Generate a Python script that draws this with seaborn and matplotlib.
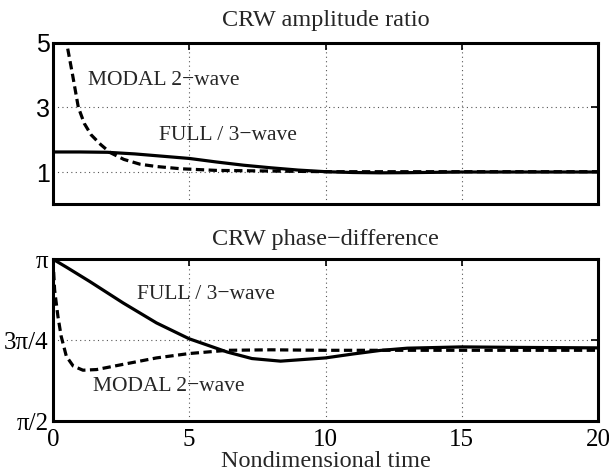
import numpy as np
import pandas as pd
import matplotlib
matplotlib.use("Agg")
import matplotlib.pyplot as plt
import seaborn as sns

# ---- data ----
amp_full_t = [0, 1, 2, 3, 4, 5, 6, 7, 8, 9, 10, 11, 12, 13, 14, 15, 17, 20]
amp_full_v = [1.62, 1.62, 1.61, 1.56, 1.49, 1.42, 1.31, 1.21, 1.13, 1.06, 1.01, 0.985, 0.975, 0.98, 0.99, 1.0, 1.0, 1.0]

amp_modal_t = [0.42, 0.5, 0.72, 0.93, 1.15, 1.4, 1.75, 2.1, 2.6, 3.2, 3.8, 4.7, 6, 8, 10, 12, 15, 20]
amp_modal_v = [5.6, 5.0, 4.0, 3.0, 2.5, 2.15, 1.85, 1.6, 1.39, 1.24, 1.17, 1.1, 1.05, 1.03, 1.01, 1.01, 1.01, 1.01]

# phase difference in units of pi
ph_full_t = [0, 0.5, 1.35, 2.57, 3.8, 5.0, 6.4, 7.3, 8.35, 10, 11, 12, 13, 15, 17, 20]
ph_full_v = [1.0, 0.975, 0.931, 0.865, 0.803, 0.754, 0.713, 0.693, 0.685, 0.695, 0.707, 0.718, 0.725, 0.729, 0.7275, 0.726]

ph_modal_t = [0, 0.06, 0.18, 0.3, 0.49, 0.74, 1.1, 1.6, 2.57, 3.8, 5.0, 6.4, 8, 10, 15, 20]
ph_modal_v = [1.0, 0.905, 0.824, 0.762, 0.70, 0.670, 0.657, 0.659, 0.675, 0.695, 0.7085, 0.7185, 0.72, 0.7185, 0.7185, 0.7185]

amp_ticks = [1, 3, 5]
amp_ticklabels = ["1", "3", "5"]
ph_ticks = [0.5, 0.75, 1.0]
ph_ticklabels = ["π/2", "3π/4", "π"]
x_ticks = [0, 5, 10, 15, 20]

sns.set_style("white")
plt.rcParams["font.family"] = ["Liberation Serif", "DejaVu Serif"]
plt.rcParams["axes.unicode_minus"] = True

fig = plt.figure(figsize=(6.09, 4.76), dpi=100)
ax1 = fig.add_axes([0.087, 0.5707, 0.895, 0.3396])
ax2 = fig.add_axes([0.087, 0.1155, 0.895, 0.3400])

def mk(t, v, name):
    return pd.DataFrame({"t": t, "v": v, "series": name})

amp = pd.concat([mk(amp_full_t, amp_full_v, "FULL"), mk(amp_modal_t, amp_modal_v, "MODAL")])
ph = pd.concat([mk(ph_full_t, ph_full_v, "FULL"), mk(ph_modal_t, ph_modal_v, "MODAL")])

LW = 2.3
for ax, df in [(ax1, amp), (ax2, ph)]:
    sns.lineplot(data=df[df.series == "FULL"], x="t", y="v", ax=ax, color="black",
                 lw=LW, legend=False)
    sns.lineplot(data=df[df.series == "MODAL"], x="t", y="v", ax=ax, color="black",
                 lw=LW, legend=False)
    ax.lines[1].set_dashes((2.6, 1.4))
    ax.set_xlim(0, 20)
    ax.set_xticks(x_ticks)
    ax.set_xlabel("")
    ax.set_ylabel("")
    ax.grid(True, which="major", color="#555555", linestyle=(0, (1, 3)), linewidth=0.8)
    ax.tick_params(direction="in", top=True, right=True, length=5, width=1.2, colors="black")
    for s in ax.spines.values():
        s.set_linewidth(2.2)
        s.set_color("black")
        s.set_visible(True)

ax1.set_ylim(0, 5)
ax1.set_yticks(amp_ticks)
ax1.set_yticklabels(amp_ticklabels, family=["Liberation Sans"], fontsize=18)
ax1.tick_params(axis="y", pad=2)
ax1.set_xticklabels([])
ax1.set_title("CRW amplitude ratio", fontsize=17.5, pad=12)
ax1.text(1.3, 3.82, "MODAL 2\u2212wave", fontsize=15.5, va="center", ha="left")
ax1.text(3.9, 2.12, "FULL / 3\u2212wave", fontsize=15.5, va="center", ha="left")

ax2.set_ylim(0.5, 1.0)
ax2.set_yticks(ph_ticks)
ax2.set_yticklabels(ph_ticklabels, fontsize=18)
ax2.set_xticklabels([str(x) for x in x_ticks], fontsize=18)
ax2.tick_params(axis="x", pad=5.5)
ax2.tick_params(axis="y", pad=3)
ax2.set_title("CRW phase\u2212difference", fontsize=17.5, pad=10)
ax2.set_xlabel("Nondimensional time", fontsize=17.5, labelpad=0.5)
ax2.text(3.07, 0.89, "FULL / 3\u2212wave", fontsize=15.5, va="center", ha="left")
ax2.text(1.48, 0.608, "MODAL 2\u2212wave", fontsize=15.5, va="center", ha="left")

fig.savefig("out.png", dpi=100)
